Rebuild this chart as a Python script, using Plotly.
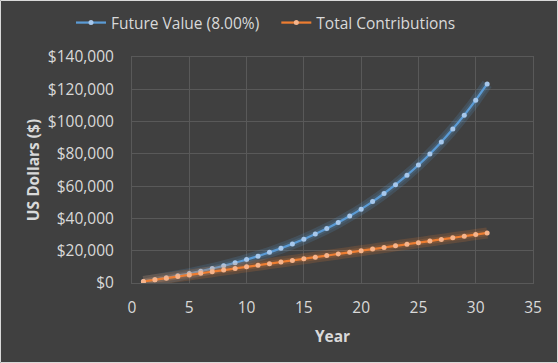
import plotly.graph_objects as go

years = list(range(1, 32))
future_value = [1000, 2080, 3246, 4506, 5867, 7336, 8923, 10637, 12488, 14487,
                16645, 18977, 21495, 24215, 27152, 30324, 33750, 37450, 41446, 45762,
                50423, 55457, 60893, 66765, 73106, 79954, 87351, 95339, 103966, 113283,
                123346]
contributions = [1000, 2000, 3000, 4000, 5000, 6000, 7000, 8000, 9000, 10000,
                 11000, 12000, 13000, 14000, 15000, 16000, 17000, 18000, 19000, 20000,
                 21000, 22000, 23000, 24000, 25000, 26000, 27000, 28000, 29000, 30000,
                 31000]
series_names = ["Future Value (8.00%)", "Total Contributions"]
x_ticks = [0, 5, 10, 15, 20, 25, 30, 35]
y_ticks = [0, 20000, 40000, 60000, 80000, 100000, 120000, 140000]
y_tick_labels = ["$0", "$20,000", "$40,000", "$60,000", "$80,000", "$100,000",
                 "$120,000", "$140,000"]

BG = "#404040"
TXT = "#d9d9d9"
GRID = "#595959"
FONT = "Open Sans"

styles = [
    ("#5b9bd5", "#a7c8ec", "rgba(91,155,213,0.18)"),
    ("#ed7d31", "#f6b48b", "rgba(237,125,49,0.18)"),
]

fig = go.Figure()
for i, (ys, name, (lc, mc, gc)) in enumerate(zip([future_value, contributions], series_names, styles)):
    fig.add_trace(go.Scatter(x=years, y=ys, mode="lines", showlegend=False,
                             hoverinfo="skip",
                             line=dict(color=gc, width=11, shape="spline", smoothing=0.6)))
    fig.add_trace(go.Scatter(x=years, y=ys, mode="lines", showlegend=False,
                             hoverinfo="skip",
                             line=dict(color=gc, width=6, shape="spline", smoothing=0.6)))
    label = name + ("\u00a0\u00a0\u00a0" if i == 0 else "")
    fig.add_trace(go.Scatter(x=years, y=ys, mode="lines+markers", name=label,
                             line=dict(color=lc, width=2.25, shape="spline", smoothing=0.6),
                             marker=dict(color=mc, size=5, line=dict(width=0))))

W, H = 558, 363
ml, mr, mt, mb = 132, 25, 57, 80
pw, ph = W - ml - mr, H - mt - mb

fig.update_layout(
    width=W, height=H,
    margin=dict(l=ml, r=mr, t=mt, b=mb, autoexpand=False),
    paper_bgcolor=BG, plot_bgcolor=BG,
    font=dict(family=FONT, color=TXT, size=15),
    legend=dict(orientation="h", x=(266 - ml) / pw, xanchor="center", y=1 + 34 / ph,
                yanchor="middle",
                font=dict(size=15.5, color=TXT), bgcolor="rgba(0,0,0,0)",
                itemwidth=30, tracegroupgap=0),
    xaxis=dict(range=[0, 35], tickvals=x_ticks, showgrid=True, gridcolor=GRID, gridwidth=1,
               zeroline=False, showline=True, linecolor=GRID, mirror=True,
               ticks="", tickfont=dict(size=15.5, color=TXT), ticklabelstandoff=10,
               automargin=False,
               title=dict(text="<b>Year</b>", font=dict(size=15.5, color=TXT), standoff=14)),
    yaxis=dict(range=[0, 140000], tickvals=y_ticks, ticktext=y_tick_labels,
               showgrid=True, gridcolor=GRID, gridwidth=1,
               zeroline=False, showline=True, linecolor=GRID, mirror=True,
               ticks="", tickfont=dict(size=15.5, color=TXT), ticklabelstandoff=14,
               automargin=False,
               title=dict(text="<b>US Dollars ($)</b>", font=dict(size=15.5, color=TXT), standoff=4)),
    shapes=[dict(type="rect", xref="paper", yref="paper",
                 x0=-(ml - 0.5) / pw, x1=1 + (mr - 0.5) / pw,
                 y0=-(mb - 0.5) / ph, y1=1 + (mt - 0.5) / ph,
                 line=dict(color="#d9d9d9", width=1), layer="above")],
)

fig.write_html("out.html", config={"displayModeBar": False},
               post_script="document.body.style.margin='0';document.body.style.padding='0';")
